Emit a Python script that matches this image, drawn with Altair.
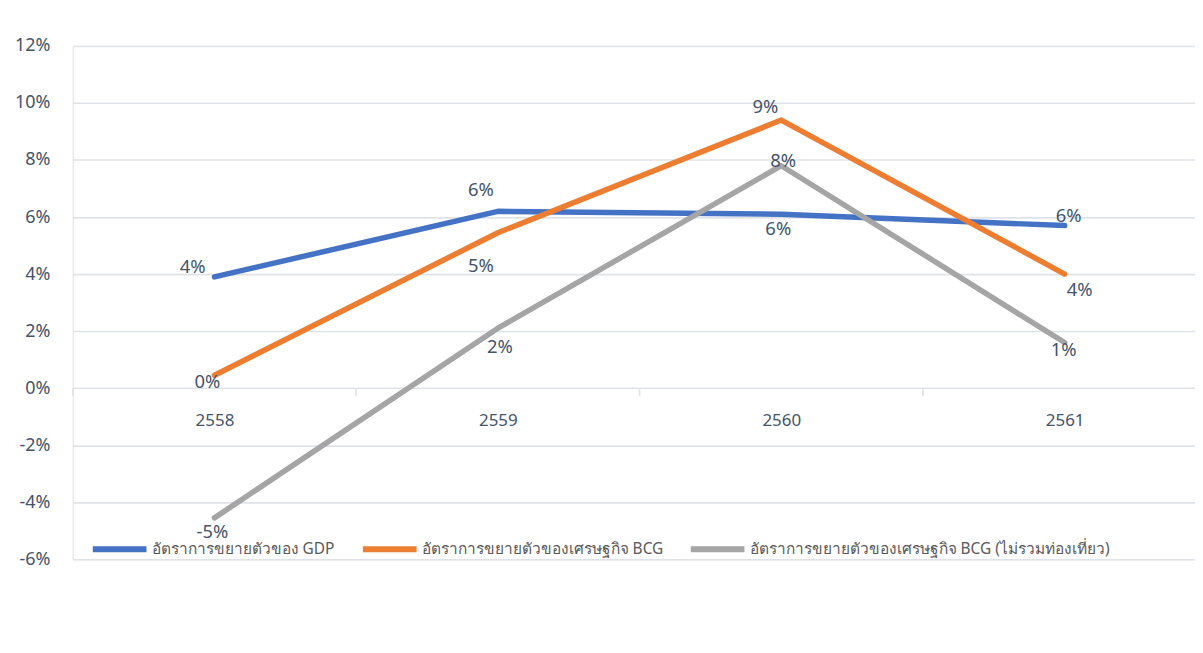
import altair as alt
import pandas as pd

# ---- data ----
years = [2558, 2559, 2560, 2561]
series_names = [
    "อัตราการขยายตัวของ GDP",
    "อัตราการขยายตัวของเศรษฐกิจ BCG",
    "อัตราการขยายตัวของเศรษฐกิจ BCG (ไม่รวมท่องเที่ยว)",
]
gdp = [3.9, 6.2, 6.1, 5.7]
bcg = [0.45, 5.45, 9.4, 4.0]
bcg_ex = [-4.55, 2.1, 7.8, 1.6]
gdp_labels = ["4%", "6%", "6%", "6%"]
bcg_labels = ["0%", "5%", "9%", "4%"]
bcg_ex_labels = ["-5%", "2%", "8%", "1%"]
y_ticks = [-6, -4, -2, 0, 2, 4, 6, 8, 10, 12]
band_edges = [2557.5, 2558.5, 2559.5, 2560.5]

# ---- label placement (style, pixels: right / down) ----
gdp_off = [(-22, -10), (-17, -21), (-3, 15), (4, -10)]
bcg_off = [(-7, 7), (-17, 33), (-16, -13), (15, 16)]
bcg_ex_off = [(-2, 14), (2, 19), (2, -5), (-1, 8)]

colors = ["#4472C4", "#ED7D31", "#A5A5A5"]

W, H = 1126, 515
X_DOMAIN = [2557.5, 2561.46]
Y_DOMAIN = [-6, 12]
x_per_px = (X_DOMAIN[1] - X_DOMAIN[0]) / W
y_per_px = (Y_DOMAIN[1] - Y_DOMAIN[0]) / H

rows = []
for name, vals, labs, offs in zip(series_names, [gdp, bcg, bcg_ex],
                                  [gdp_labels, bcg_labels, bcg_ex_labels],
                                  [gdp_off, bcg_off, bcg_ex_off]):
    for yr, v, lab, (dx, dy) in zip(years, vals, labs, offs):
        rows.append({"year": yr, "value": v, "series": name, "label": lab,
                     "dx": dx, "dy": dy})
df = pd.DataFrame(rows)
edges_df = pd.DataFrame({"edge": band_edges, "y0": [0] * 4})

xscale = alt.Scale(domain=X_DOMAIN, nice=False, zero=False)
yscale = alt.Scale(domain=Y_DOMAIN, nice=False, zero=False)

FONT = "Noto Sans"
TXT = "#44546A"

lines = alt.Chart(df).mark_line(strokeWidth=5.5, strokeCap="round", strokeJoin="round").encode(
    x=alt.X("year:Q", scale=xscale,
            axis=alt.Axis(values=years, format="d", title=None, offset=-171,
                          domain=False, ticks=False, grid=False,
                          labelFontSize=17, labelColor=TXT, labelFont=FONT,
                          labelPadding=24)),
    y=alt.Y("value:Q", scale=yscale,
            axis=alt.Axis(values=y_ticks, labelExpr="datum.value + '%'", title=None,
                          domain=False, ticks=False, gridColor="#DFE3E8", gridWidth=1.6,
                          labelFontSize=18, labelColor=TXT, labelFont=FONT,
                          labelPadding=23)),
    color=alt.Color("series:N",
                    scale=alt.Scale(domain=series_names, range=colors),
                    sort=series_names,
                    legend=alt.Legend(title=None, orient="none", direction="horizontal",
                                      legendX=17, legendY=475, symbolType="stroke",
                                      symbolSize=2900, symbolStrokeWidth=6,
                                      labelFontSize=15.5, labelColor="#595959",
                                      labelFont=FONT, labelLimit=600, labelOffset=2,
                                      columnPadding=16, padding=0,
                                      labelBaseline="middle")),
)

labels = alt.Chart(df).transform_calculate(
    lx=f"datum.year + datum.dx * {x_per_px}",
    ly=f"datum.value - datum.dy * {y_per_px}",
).mark_text(fontSize=18.5, font=FONT, color=TXT, align="center", baseline="middle").encode(
    x=alt.X("lx:Q", scale=xscale),
    y=alt.Y("ly:Q", scale=yscale),
    text="label:N",
)

ticks = alt.Chart(edges_df).transform_calculate(
    y1=f"datum.y0 - 8 * {y_per_px}"
).mark_rule(color="#DFE3E8", strokeWidth=1.6).encode(
    x=alt.X("edge:Q", scale=xscale),
    y=alt.Y("y0:Q", scale=yscale),
    y2="y1:Q",
)

chart = alt.layer(ticks, lines, labels).properties(
    width=W, height=H,
    autosize=alt.AutoSizeParams(type="none"),
    padding={"left": 65, "top": 37, "right": 0, "bottom": 80},
).configure_view(stroke=None).configure(background="white")

chart.save("out.html", embed_options={"renderer": "svg", "actions": False})
